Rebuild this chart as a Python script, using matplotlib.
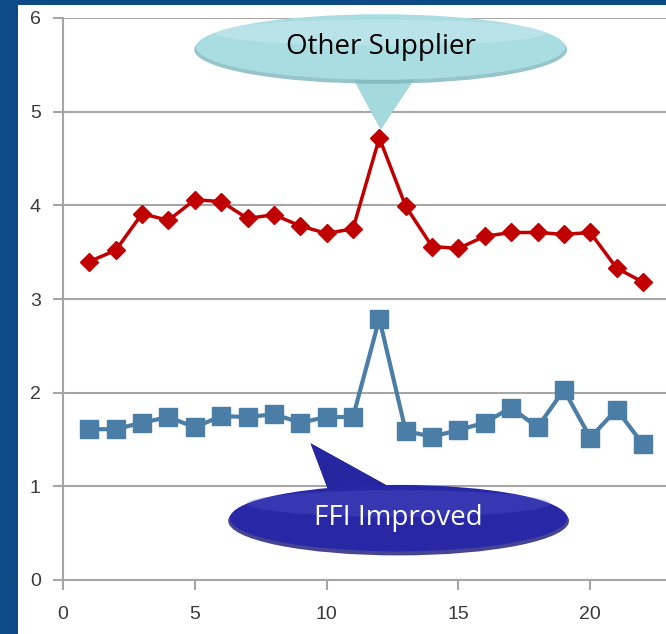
import matplotlib
matplotlib.use('Agg')
import matplotlib.pyplot as plt
from matplotlib.patches import Ellipse, Polygon, Rectangle

# Data
samples = list(range(1, 23))
other_supplier = [3.40, 3.52, 3.91, 3.84, 4.06, 4.04, 3.86, 3.90, 3.78, 3.70, 3.75,
                  4.72, 3.99, 3.56, 3.54, 3.67, 3.71, 3.71, 3.69, 3.71, 3.33, 3.18]
ffi_improved = [1.61, 1.61, 1.68, 1.74, 1.63, 1.75, 1.74, 1.77, 1.68, 1.74, 1.74,
                2.79, 1.59, 1.53, 1.60, 1.68, 1.84, 1.63, 2.03, 1.52, 1.82, 1.45]
x_ticks = [0, 5, 10, 15, 20]
y_ticks = [0, 1, 2, 3, 4, 5, 6]

W, H = 666, 634
fig = plt.figure(figsize=(W / 100, H / 100), dpi=100)
fig.patch.set_facecolor('#0d4a86')

# white chart box on the slide
fig.add_artist(Rectangle((18 / W, 0), 1, 1 - 5 / H, transform=fig.transFigure,
                         facecolor='white', edgecolor='none', zorder=0))

left, bottom, top = 63 / W, 1 - 580 / H, 1 - 18 / H
ax = fig.add_axes([left, bottom, 1.0 - left + 0.005, top - bottom])
ax.set_facecolor('white')
ax.set_xlim(0, 23)
ax.set_ylim(0, 6)

ax.plot(samples, other_supplier, color='#c00000', linewidth=2.5,
        marker='D', markersize=9, zorder=3)
ax.plot(samples, ffi_improved, color='#4a7ea6', linewidth=3,
        marker='s', markersize=13, zorder=3)

ax.set_xticks(x_ticks)
ax.set_yticks(y_ticks)
ax.yaxis.grid(True, color='#a6a6a6', linewidth=1.5)
ax.set_axisbelow(True)
for side in ['top', 'right']:
    ax.spines[side].set_visible(False)
for side in ['left', 'bottom']:
    ax.spines[side].set_color('#a6a6a6')
    ax.spines[side].set_linewidth(1.5)
ax.tick_params(colors='#a6a6a6', width=1.5, length=7, labelcolor='#3a3a3a',
               labelsize=14)
ax.tick_params(axis='y', pad=9)
ax.tick_params(axis='x', pad=12)
for lbl in ax.get_xticklabels() + ax.get_yticklabels():
    lbl.set_family('Liberation Sans')


def callout(cx, cy, w, h, base, tip, face, dark, light, text, text_color):
    pts = [base[0], tip, base[1]]
    ax.add_patch(Polygon(pts, closed=True, facecolor=dark, edgecolor='none',
                         zorder=5, clip_on=False))
    ax.add_patch(Polygon(pts, closed=True, facecolor=face, edgecolor='none',
                         zorder=5, clip_on=False, alpha=0.9))
    ax.add_patch(Ellipse((cx, cy - h * 0.04), w * 1.01, h * 1.04, facecolor=dark,
                         edgecolor='none', zorder=6, clip_on=False, alpha=0.8))
    ax.add_patch(Ellipse((cx, cy), w, h, facecolor=face, edgecolor='none',
                         zorder=6, clip_on=False))
    ax.add_patch(Ellipse((cx, cy + h * 0.22), w * 0.9, h * 0.4, facecolor=light,
                         edgecolor='none', zorder=6, clip_on=False, alpha=0.3))
    ax.text(cx, cy, text, ha='center', va='center', fontsize=20, color=text_color,
            family='Open Sans', zorder=7, clip_on=False)


callout(12.05, 5.69, 14.0, 0.70,
        [(10.83, 5.45), (13.56, 5.45)], (12.05, 4.81),
        '#a9dde2', '#7db6bd', '#dff4f6', 'Other Supplier', 'black')
callout(12.73, 0.66, 12.8, 0.71,
        [(10.1, 0.93), (12.6, 0.96)], (9.39, 1.46),
        '#2828a6', '#16167a', '#5a5ad0', 'FFI Improved', 'white')

fig.savefig('out.png', dpi=100, facecolor=fig.get_facecolor())
